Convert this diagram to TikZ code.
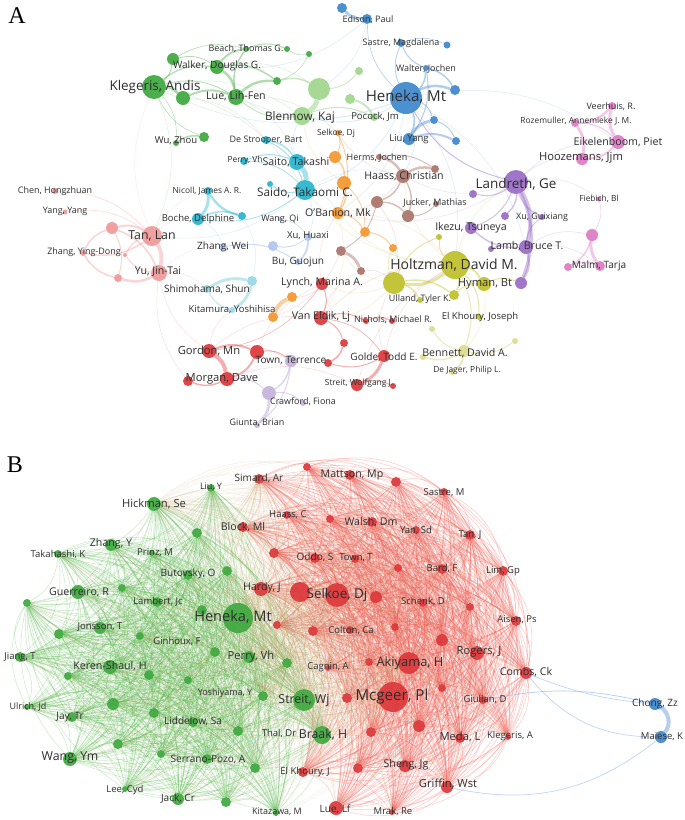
\documentclass[tikz,border=0pt]{standalone}
\usepackage{fontspec}
\setmainfont{Open Sans}
\newfontfamily\pserif{Liberation Serif}
\usetikzlibrary{calc}
\pgfdeclarelayer{bg}
\pgfsetlayers{bg,main}
\definecolor{cG}{RGB}{62,168,62}
\definecolor{cLG}{RGB}{160,214,140}
\definecolor{cB}{RGB}{62,135,205}
\definecolor{cC}{RGB}{40,180,205}
\definecolor{cLC}{RGB}{150,215,230}
\definecolor{cO}{RGB}{245,150,45}
\definecolor{cLB}{RGB}{175,198,235}
\definecolor{cBr}{RGB}{170,115,105}
\definecolor{cP}{RGB}{152,108,196}
\definecolor{cPk}{RGB}{222,122,196}
\definecolor{cS}{RGB}{240,152,152}
\definecolor{cR}{RGB}{220,55,58}
\definecolor{cLa}{RGB}{196,178,220}
\definecolor{cY}{RGB}{190,192,42}
\definecolor{cPY}{RGB}{220,220,142}
\definecolor{eGB}{RGB}{95,188,85}
\definecolor{eRB}{RGB}{240,95,85}
\definecolor{eXB}{RGB}{200,160,95}
\definecolor{eBl}{RGB}{150,185,235}
\newcommand\vN[5]{\node[vnode,fill=#5,minimum size={2*#4pt}] (#1) at (#2,#3) {};}
\newcommand\vL[5]{\pgfmathsetmacro\vfs{#4*1.12}\node[vlab,font=\fontsize{\vfs}{\vfs}\selectfont] (#1) at (#2,#3) {#5};}
\newcommand\EL[3]{\foreach \a/\b/\w in {#3} {\draw[line width=\w*1pt,draw=#1,opacity=#2] (\a) to[bend left=22] (\b);}}
\tikzset{
  vnode/.style={circle,inner sep=0pt,draw=none,fill opacity=0.92},
  vlab/.style={inner sep=0pt,text=black!82},
  panel/.style={inner sep=0pt,font=\pserif\fontsize{24}{24}\selectfont},
  eg/.style={draw=eGB,line width=0.55pt,opacity=0.3},
  er/.style={draw=eRB,line width=0.55pt,opacity=0.3},
  ex/.style={draw=eXB,line width=0.45pt,opacity=0.16},
}
\begin{document}
\begin{tikzpicture}[x=1pt,y=-1pt]
\useasboundingbox (0,0) rectangle (685,820);
\node[panel] (pA) at (17,16) {A};
\node[panel] (pB) at (15,465) {B};
% ================= Panel A nodes =================
% green
\vN{gBeach}{246}{49}{3}{cG}
\vN{gBeach2}{287}{49}{3}{cG}
\vN{g309}{309}{54}{3}{cG}
\vN{g173}{173}{59}{6}{cG}
\vN{gWalker}{217}{67}{7}{cG}
\vN{gKlegeris}{154}{87}{12}{cG}
\vN{g183}{183}{98}{7}{cG}
\vN{gLue}{236}{97}{8}{cG}
\vN{g277}{277}{81}{4}{cG}
\vN{gWu}{176}{143}{3}{cG}
\vN{gWu2}{204}{137}{5}{cG}
% light green
\vN{lg319}{319}{89}{11}{cLG}
\vN{lgBlennow}{302}{116}{9}{cLG}
\vN{lg350}{350}{99}{5}{cLG}
\vN{lg359}{359}{71}{4}{cLG}
\vN{lgPocock}{374}{117}{4}{cLG}
% blue
\vN{b342}{342}{8}{5}{cB}
\vN{bEdison}{367}{19}{5}{cB}
\vN{bSastre}{401}{43}{4}{cB}
\vN{b447}{447}{45}{3.5}{cB}
\vN{bWalter}{426}{68}{3}{cB}
\vN{b455}{455}{90}{5}{cB}
\vN{bHeneka}{406}{98}{16}{cB}
\vN{b434}{434}{120}{4}{cB}
\vN{bLiu}{409}{139}{6}{cB}
\vN{b456}{456}{141}{4}{cB}
% cyan
\vN{cDeS}{266}{140}{4}{cC}
\vN{cPerry}{244}{161}{4}{cC}
\vN{cSaito}{297}{162}{8}{cC}
\vN{cSaido}{305}{190}{10}{cC}
\vN{c270}{270}{184}{3}{cC}
\vN{cNicoll}{208}{191}{4}{cC}
\vN{cBoche}{198}{219}{6}{cC}
\vN{c242}{242}{216}{4}{cC}
% light cyan
\vN{lcShim}{207}{289}{4}{cLC}
\vN{lc252}{252}{281}{5}{cLC}
\vN{lcKit}{232}{310}{3}{cLC}
% orange
\vN{oSelkoe}{338}{133}{3}{cO}
\vN{o335}{335}{157}{6}{cO}
\vN{o344}{344}{183}{7}{cO}
\vN{oOBanion}{338}{213}{6}{cO}
\vN{o365}{365}{232}{5}{cO}
\vN{o393}{393}{248}{4}{cO}
\vN{o273}{273}{317}{5}{cO}
\vN{o292}{292}{297}{5}{cO}
% light blue
\vN{lbWang}{280}{219}{2}{cLB}
\vN{lbXu}{308}{237}{4}{cLB}
\vN{lb273}{273}{246}{5}{cLB}
\vN{lbZhang}{223}{247}{4}{cLB}
\vN{lbBu}{298}{262}{3}{cLB}
% brown
\vN{brHerms}{379}{157}{3}{cBr}
\vN{br435}{435}{169}{4}{cBr}
\vN{brHaass}{403}{176}{7}{cBr}
\vN{br377}{377}{202}{6}{cBr}
\vN{brJucker}{436}{204}{3}{cBr}
\vN{br408}{408}{216}{6}{cBr}
\vN{br341}{341}{251}{5}{cBr}
\vN{br361}{361}{271}{4}{cBr}
% purple
\vN{pLandreth}{516}{182}{12}{cP}
\vN{p473}{473}{194}{4}{cP}
\vN{pXu}{505}{216}{4}{cP}
\vN{pXu2}{542}{217}{3}{cP}
\vN{pIkezu}{471}{228}{6}{cP}
\vN{pLamb}{526}{247}{7}{cP}
\vN{p491}{491}{249}{3}{cP}
\vN{p521}{521}{283}{6}{cP}
% pink
\vN{pkVeer}{612}{106}{4}{cPk}
\vN{pkRoz}{575}{123}{4}{cPk}
\vN{pkEik}{618}{142}{7}{cPk}
\vN{pkHooz}{582}{159}{6}{cPk}
\vN{pkFiebich}{599}{199}{2.5}{cPk}
\vN{pk592}{592}{235}{6}{cPk}
\vN{pk568}{568}{267}{4}{cPk}
\vN{pkMalm}{600}{266}{5}{cPk}
% salmon
\vN{sChen}{55}{191}{3}{cS}
\vN{sYang}{65}{212}{2.5}{cS}
\vN{sTan}{152}{236}{10}{cS}
\vN{s112}{112}{228}{6}{cS}
\vN{sZhang}{83}{253}{3}{cS}
\vN{s125}{125}{255}{2}{cS}
\vN{sYu}{159}{273}{8}{cS}
\vN{s118}{118}{278}{4}{cS}
% red
\vN{rLynch}{322}{284}{6}{cR}
\vN{rVanEldik}{321}{318}{7}{cR}
\vN{rNichols}{366}{321}{3}{cR}
\vN{rNichols2}{392}{321}{3}{cR}
\vN{r344}{344}{343}{4}{cR}
\vN{rGordon}{209}{351}{7}{cR}
\vN{r257}{257}{352}{7}{cR}
\vN{r328}{328}{363}{4}{cR}
\vN{rGolde}{384}{356}{6}{cR}
\vN{rMorgan}{227}{379}{7}{cR}
\vN{r188}{188}{381}{5}{cR}
\vN{rStreit}{357}{385}{6}{cR}
\vN{r393}{393}{386}{3}{cR}
% lavender
\vN{laTown}{291}{361}{6}{cLa}
\vN{laCrawford}{269}{393}{7}{cLa}
\vN{la303}{303}{403}{3}{cLa}
\vN{laGiunta}{257}{425}{3}{cLa}
% yellow
\vN{yHoltzman}{455}{265}{14}{cY}
\vN{y394}{394}{283}{11}{cY}
\vN{yHyman}{484}{284}{7}{cY}
\vN{yUlland}{454}{295}{5}{cY}
\vN{y420}{420}{300}{3}{cY}
\vN{yElKhoury}{479}{317}{3}{cY}
\vN{yIkezu}{439}{237}{3}{cY}
% pale yellow
\vN{py432}{432}{329}{3}{cPY}
\vN{py515}{515}{341}{3}{cPY}
\vN{pyBennett}{464}{351}{6}{cPY}
\vN{py423}{423}{357}{3}{cPY}
\vN{pyDeJager}{452}{372}{3}{cPY}
% ================= Panel B nodes =================
\vN{LiuY}{211}{488}{4}{cG}
\vN{Hickman}{154}{504}{7}{cG}
\vN{g197}{197}{533}{5}{cG}
\vN{ZhangY}{111}{545}{6}{cG}
\vN{Takahashi}{58}{554}{4}{cG}
\vN{Prinz}{152}{553}{3}{cG}
\vN{Butovsky}{188}{575}{5}{cG}
\vN{g227}{227}{571}{5}{cG}
\vN{Guerreiro}{78}{592}{7}{cG}
\vN{g122}{122}{588}{4}{cG}
\vN{Lambert}{157}{602}{5}{cG}
\vN{g202}{202}{610}{5}{cG}
\vN{HenekaB}{238}{618}{15}{cG}
\vN{Jonsson}{100}{628}{6}{cG}
\vN{g59}{59}{634}{5}{cG}
\vN{g140}{140}{636}{4}{cG}
\vN{g215}{215}{652}{5}{cG}
\vN{PerryB}{249}{657}{6}{cG}
\vN{g287}{287}{663}{5}{cG}
\vN{Jiang}{20}{657}{5}{cG}
\vN{KerenShaul}{110}{667}{7}{cG}
\vN{g68}{68}{676}{4}{cG}
\vN{g149}{149}{675}{5}{cG}
\vN{g188}{188}{680}{4}{cG}
\vN{StreitB}{304}{700}{11}{cG}
\vN{Yoshiyama}{263}{696}{5}{cG}
\vN{Ulrich}{27}{707}{3}{cG}
\vN{Jay}{72}{717}{5}{cG}
\vN{g113}{113}{704}{6}{cG}
\vN{g154}{154}{713}{5}{cG}
\vN{Liddelow}{193}{722}{5}{cG}
\vN{g238}{238}{731}{5}{cG}
\vN{Braak}{322}{735}{9}{cG}
\vN{WangYm}{70}{759}{7}{cG}
\vN{g118}{118}{744}{5}{cG}
\vN{g161}{161}{754}{4}{cG}
\vN{SerranoPozo}{207}{759}{5}{cG}
\vN{g255}{255}{768}{5}{cG}
\vN{LeeCyd}{125}{789}{3}{cG}
\vN{JackCr}{178}{799}{6}{cG}
\vN{g226}{226}{802}{5}{cG}
\vN{Kitazawa}{276}{813}{3}{cG}
\vN{g27}{27}{603}{4}{cG}
% red
\vN{r307}{307}{467}{4}{cR}
\vN{Simard}{259}{479}{5}{cR}
\vN{Mattson}{350}{475}{5}{cR}
\vN{r396}{396}{482}{5}{cR}
\vN{SastreM}{444}{492}{4}{cR}
\vN{HaassC}{287}{515}{4}{cR}
\vN{r330}{330}{519}{4}{cR}
\vN{Block}{243}{527}{5}{cR}
\vN{Walsh}{372}{522}{5}{cR}
\vN{YanSd}{416}{530}{4}{cR}
\vN{TanJ}{470}{535}{5}{cR}
\vN{r274}{274}{553}{5}{cR}
\vN{Oddo}{315}{558}{5}{cR}
\vN{TownT}{355}{559}{4}{cR}
\vN{r398}{398}{568}{4}{cR}
\vN{Bard}{442}{569}{5}{cR}
\vN{LimGp}{503}{571}{5}{cR}
\vN{Hardy}{261}{589}{7}{cR}
\vN{r300}{300}{592}{10}{cR}
\vN{SelkoeB}{337}{595}{12}{cR}
\vN{r376}{376}{597}{6}{cR}
\vN{Schenk}{423}{603}{4}{cR}
\vN{r470}{470}{607}{4}{cR}
\vN{Aisen}{516}{621}{5}{cR}
\vN{r277}{277}{625}{4}{cR}
\vN{r313}{313}{631}{5}{cR}
\vN{Colton}{350}{630}{4}{cR}
\vN{r395}{395}{627}{4}{cR}
\vN{r442}{442}{640}{6}{cR}
\vN{Rogers}{477}{653}{7}{cR}
\vN{r369}{369}{662}{4}{cR}
\vN{Cagnin}{328}{668}{3}{cR}
\vN{Akiyama}{409}{663}{11}{cR}
\vN{Combs}{526}{673}{6}{cR}
\vN{r347}{347}{698}{5}{cR}
\vN{Mcgeer}{393}{697}{15}{cR}
\vN{r442b}{442}{688}{4}{cR}
\vN{Giulian}{483}{700}{4}{cR}
\vN{r371}{371}{732}{5}{cR}
\vN{r419}{419}{726}{6}{cR}
\vN{Meda}{460}{738}{5}{cR}
\vN{KlegerisA}{508}{737}{3}{cR}
\vN{ElKhouryJ}{303}{772}{5}{cR}
\vN{r358}{358}{768}{5}{cR}
\vN{Sheng}{405}{766}{6}{cR}
\vN{Griffin}{447}{787}{6}{cR}
\vN{LueLf}{336}{808}{7}{cR}
\vN{Mrak}{392}{812}{3}{cR}
% blue
\vN{Chong}{655}{704}{6}{cB}
\vN{Maiese}{661}{737}{6}{cB}
% ================= edges =================
\begin{pgfonlayer}{bg}
\fill[white] (0,0) rectangle (685,820);
% ---- panel A faint cross edges
\EL{cB}{0.18}{bHeneka/yHoltzman/0.6,bHeneka/cSaido/0.6,bHeneka/gKlegeris/0.5,bHeneka/brHaass/0.6,bHeneka/lgBlennow/0.8,bHeneka/gLue/0.5,bHeneka/oOBanion/0.5,bHeneka/pLamb/0.5,bEdison/gWalker/0.5,bEdison/lg319/0.5,bHeneka/pkEik/0.5}
\EL{cG}{0.18}{gKlegeris/cSaido/0.5,gKlegeris/lgBlennow/0.5,gLue/cSaito/0.5,gWalker/lg319/0.5,gKlegeris/sTan/0.5,g183/cDeS/0.5,gLue/oSelkoe/0.5}
\EL{cR}{0.16}{rVanEldik/yHoltzman/0.6,rLynch/oOBanion/0.5,rGolde/yHoltzman/0.6,rGordon/rVanEldik/0.6,rMorgan/rStreit/0.6,r257/rLynch/0.5,rGolde/y394/0.6,rStreit/yHoltzman/0.5,rGordon/laTown/0.6,rVanEldik/br361/0.5,rLynch/o292/0.5,rGordon/sYu/0.5,r188/sYu/0.5,rGordon/lcKit/0.5}
\EL{cY}{0.2}{yHoltzman/cSaido/0.6,yHoltzman/brHaass/0.6,yHoltzman/pLandreth/0.6,y394/rVanEldik/0.6,yHyman/pyBennett/0.6,y394/br341/0.6,y394/rLynch/0.6,yHoltzman/oOBanion/0.5}
\EL{cP}{0.2}{pLandreth/pkHooz/0.6,pLandreth/pkEik/0.6,pLamb/pk592/0.6,pLamb/pkMalm/0.6,pLandreth/brHaass/0.5,pLandreth/oOBanion/0.5,pLandreth/pkFiebich/0.5}
\EL{cC}{0.18}{cSaido/brHaass/0.5,cSaido/oOBanion/0.6,cSaido/sTan/0.5,cSaido/lbXu/0.6,cSaito/lgBlennow/0.6,cBoche/lbZhang/0.5,c242/lc252/0.5}
\EL{cBr}{0.2}{brHaass/oOBanion/0.6,br377/y394/0.6,brHaass/oSelkoe/0.6,br341/o273/0.5,br361/y394/0.6}
\EL{cO}{0.2}{oOBanion/rVanEldik/0.5,oOBanion/yHoltzman/0.5,o344/lgBlennow/0.6,o393/y394/0.6}
\EL{cS}{0.2}{sTan/cNicoll/0.5,sYu/lcShim/0.6,sTan/gKlegeris/0.5,sTan/cBoche/0.6,sYu/lbZhang/0.5}
% ---- panel A cluster edges
\EL{cG}{0.4}{gKlegeris/g183/3,gKlegeris/gWalker/1.2,g183/gLue/2,gWalker/gLue/2.5,gWalker/gBeach/2,gLue/gBeach/1.5,gLue/g277/2.5,gWalker/g277/1.5,gBeach/gBeach2/1,g173/gKlegeris/1,g173/gWalker/0.8,gKlegeris/gLue/0.8,gWu/gWu2/1.5,gKlegeris/gWu/0.5,gWu2/gKlegeris/0.5,g309/gBeach2/0.5,g309/g277/0.5,g173/gBeach/0.6}
\EL{cLG}{0.55}{lg319/lgBlennow/5,g277/lg319/1.5,lgBlennow/lgPocock/1,lg350/lgPocock/2,lg359/lg319/0.8,lgBlennow/gLue/1}
\EL{cB}{0.4}{bHeneka/b455/2.5,bWalter/bHeneka/1.5,bWalter/bSastre/1,bWalter/b455/1.5,bWalter/bLiu/1,bHeneka/bLiu/1.5,bLiu/b434/3,bLiu/b456/2,b434/b456/1,bEdison/b342/3,bHeneka/bEdison/0.6,bSastre/b447/0.6,bHeneka/bSastre/0.8,bHeneka/b434/1}
\EL{cP}{0.45}{pLandreth/bHeneka/1}
\EL{cC}{0.4}{cSaito/cSaido/5,cDeS/cSaito/1.5,cPerry/cSaito/1,cSaido/c270/1,cNicoll/cBoche/3,c242/cNicoll/2.5,cBoche/c242/1.5,cSaido/cBoche/0.8,cDeS/cSaido/1,cPerry/cSaido/0.8}
\EL{cLC}{0.6}{lcShim/lc252/3,lcKit/lcShim/1,lc252/lcKit/3}
\EL{cO}{0.45}{o273/o292/4,oSelkoe/o335/1,o335/o344/1.5,o344/oOBanion/1.5,oOBanion/o365/1,o365/o393/1,oSelkoe/oOBanion/1,o344/o365/0.8}
\EL{cLB}{0.6}{lbXu/lbBu/2,lbXu/lb273/1,lbZhang/lbBu/1,lbWang/lbXu/0.6}
\EL{cBr}{0.45}{brHerms/brHaass/2.5,brHaass/br435/2.5,brHaass/br377/1.5,br377/br408/1.5,brHaass/br408/1.5,br341/br361/3,br377/br341/1,brHerms/br435/1,brJucker/br408/1}
\EL{cP}{0.4}{pLandreth/pLamb/4,pLandreth/p521/3,pLamb/p521/2.5,pLandreth/pXu/1.5,pLandreth/pIkezu/1,pLamb/pIkezu/1.5,pLandreth/p473/1,pLamb/pXu2/1,p491/pLamb/1,pXu2/pLandreth/1.5}
\EL{cPk}{0.4}{pkVeer/pkRoz/2.5,pkRoz/pkHooz/3,pkEik/pkVeer/3,pkEik/pkHooz/2,pkRoz/pkEik/1,pk592/pk568/1.5,pkMalm/pk592/3,pk568/pkMalm/1.5,pkFiebich/pk592/0.5}
\EL{cS}{0.4}{sTan/sYu/4,s112/sTan/2,sZhang/s112/1.5,s118/sZhang/1.5,sYu/s118/2.5,sTan/sZhang/1.5,s112/sYu/1.5,s112/s118/1,s125/sTan/1,sYu/s125/1,sChen/sTan/0.5,sYang/sTan/0.5}
\EL{cR}{0.4}{rGordon/rMorgan/4,rGordon/r257/2,r257/rMorgan/2,rMorgan/r188/1.5,rLynch/rVanEldik/1,rVanEldik/r344/1,r344/r328/1.5,rVanEldik/rNichols/1,rNichols/rNichols2/1,rGolde/rStreit/3,rGolde/r328/1,rStreit/r393/1,rVanEldik/rGolde/0.6,rLynch/rGordon/0.5,r257/laTown/1}
\EL{cLa}{0.55}{laTown/laCrawford/1.5,laCrawford/laGiunta/3,laCrawford/la303/1,laTown/laGiunta/1,rMorgan/laCrawford/1}
\EL{cY}{0.4}{yHoltzman/y394/3,yHoltzman/yHyman/2,yHoltzman/yUlland/1.5,y394/y420/1.5,yHoltzman/yIkezu/1,yHoltzman/yElKhoury/1,y394/yUlland/1.5,yHyman/p521/1,y394/yIkezu/1,yUlland/yHyman/1,y394/o393/0.6}
\EL{cPY}{0.6}{pyBennett/py423/1.5,pyBennett/pyDeJager/2,pyBennett/py432/1,py515/pyBennett/1,yHoltzman/pyBennett/1}
% ---- panel B
\def\Glist{LiuY,Hickman,g197,ZhangY,Takahashi,Prinz,Butovsky,g227,Guerreiro,g122,Lambert,g202,HenekaB,Jonsson,g59,g140,g215,PerryB,g287,Jiang,KerenShaul,g68,g149,g188,StreitB,Yoshiyama,Ulrich,Jay,g113,g154,Liddelow,g238,Braak,WangYm,g118,g161,SerranoPozo,g255,LeeCyd,JackCr,g226,Kitazawa,g27}
\def\Rlist{r307,Simard,Mattson,r396,SastreM,HaassC,r330,Block,Walsh,YanSd,TanJ,r274,Oddo,TownT,r398,Bard,LimGp,Hardy,r300,SelkoeB,r376,Schenk,r470,Aisen,r277,r313,Colton,r395,r442,Rogers,r369,Cagnin,Akiyama,Combs,r347,Mcgeer,r442b,Giulian,r371,r419,Meda,KlegerisA,ElKhouryJ,r358,Sheng,Griffin,LueLf,Mrak}
\foreach \a [count=\i] in \Glist {
  \foreach \b [count=\j] in \Glist {
    \ifnum\j>\i \draw[eg] (\a) to[bend left=28] (\b); \fi
  }
}
\foreach \a [count=\i] in \Rlist {
  \foreach \b [count=\j] in \Rlist {
    \ifnum\j>\i \draw[er] (\a) to[bend left=28] (\b); \fi
  }
}
\foreach \a in {HenekaB,StreitB,Braak,PerryB,Hickman,g287,Yoshiyama} {
  \foreach \b in \Rlist { \draw[ex] (\a) to[bend left=25] (\b); }
}
\foreach \a in {Mcgeer,Akiyama,SelkoeB,r300,Hardy,Simard} {
  \foreach \b in \Glist { \draw[ex] (\a) to[bend left=25] (\b); }
}
\draw[draw=eBl,line width=4pt,opacity=0.7] (Chong) to[bend left=50] (Maiese);
\draw[draw=eBl,line width=0.7pt,opacity=0.7] (Giulian) to[bend left=12] (Chong);
\draw[draw=eBl,line width=0.7pt,opacity=0.6] (Combs) to[bend right=8] (Chong);
\draw[draw=eBl,line width=0.7pt,opacity=0.6] (Combs) to[bend right=25] (Maiese);
\draw[draw=eBl,line width=0.7pt,opacity=0.6] (Griffin) to[bend right=25] (Maiese);
\end{pgfonlayer}
% ================= labels =================
% panel A
\vL{tBeach}{246}{49}{8}{Beach, Thomas G.}
\vL{tWalker}{217}{66}{9}{Walker, Douglas G.}
\vL{tKlegeris}{155}{87}{12}{Klegeris, Andis}
\vL{tLue}{236}{96}{9.5}{Lue, Lih-Fen}
\vL{tWu}{176}{140}{8.5}{Wu, Zhou}
\vL{tBlennow}{300}{117}{10.5}{Blennow, Kaj}
\vL{tPocock}{375}{117}{8.5}{Pocock, Jm}
\vL{tEdison}{368}{20}{8}{Edison, Paul}
\vL{tSastre}{401}{43}{8}{Sastre, Magdalena}
\vL{tWalter}{426}{69}{8}{Walter, Jochen}
\vL{tHeneka}{406}{97}{13.5}{Heneka, Mt}
\vL{tLiu}{409}{139}{8.5}{Liu, Yang}
\vL{tDeS}{266}{140}{8}{De Strooper, Bart}
\vL{tPerry}{245}{160}{7.5}{Perry, Vh}
\vL{tSaito}{296}{162}{9.5}{Saito, Takashi}
\vL{tSaido}{305}{193}{10.5}{Saido, Takaomi C.}
\vL{tNicoll}{207}{191}{7.5}{Nicoll, James A. R.}
\vL{tBoche}{198}{219}{8.5}{Boche, Delphine}
\vL{tShim}{207}{289}{9}{Shimohama, Shun}
\vL{tKit}{232}{309}{8.5}{Kitamura, Yoshihisa}
\vL{tSelkoe}{336}{133}{7.5}{Selkoe, Dj}
\vL{tOBanion}{338}{213}{9.5}{O'Banion, Mk}
\vL{tWangQi}{280}{219}{8}{Wang, Qi}
\vL{tXuH}{308}{236}{8.5}{Xu, Huaxi}
\vL{tZhangW}{223}{247}{9}{Zhang, Wei}
\vL{tBu}{298}{262}{9}{Bu, Guojun}
\vL{tHerms}{377}{158}{8}{Herms, Jochen}
\vL{tHaass}{404}{176}{9.5}{Haass, Christian}
\vL{tJucker}{435}{203}{8}{Jucker, Mathias}
\vL{tLandreth}{516}{184}{12}{Landreth, Ge}
\vL{tXuG}{542}{217}{8}{Xu, Guixiang}
\vL{tIkezu}{471}{228}{9.5}{Ikezu, Tsuneya}
\vL{tLamb}{527}{246}{9.5}{Lamb, Bruce T.}
\vL{tVeer}{611}{107}{8}{Veerhuis, R.}
\vL{tRoz}{576}{121}{7.5}{Rozemuller, Annemieke J. M.}
\vL{tEik}{618}{142}{9.5}{Eikelenboom, Piet}
\vL{tHooz}{581}{158}{10}{Hoozemans, Jjm}
\vL{tFiebich}{599}{199}{7.5}{Fiebich, Bl}
\vL{tMalm}{599}{266}{9}{Malm, Tarja}
\vL{tChen}{55}{191}{8}{Chen, Hongzhuan}
\vL{tYang}{65}{211}{8}{Yang, Yang}
\vL{tTan}{152}{236}{11}{Tan, Lan}
\vL{tZhangYD}{84}{252}{8}{Zhang, Ying-Dong}
\vL{tYu}{158}{272}{9.5}{Yu, Jin-Tai}
\vL{tLynch}{322}{283}{9.5}{Lynch, Marina A.}
\vL{tVanEldik}{321}{317}{9.5}{Van Eldik, Lj}
\vL{tNichols}{393}{320}{8}{Nichols, Michael R.}
\vL{tGordon}{209}{351}{10}{Gordon, Mn}
\vL{tTown}{291}{361}{9}{Town, Terrence}
\vL{tGolde}{384}{357}{9}{Golde, Todd E.}
\vL{tMorgan}{222}{379}{10}{Morgan, Dave}
\vL{tStreit}{359}{383}{7.5}{Streit, Wolfgang J.}
\vL{tCrawford}{303}{402}{8}{Crawford, Fiona}
\vL{tGiunta}{257}{423}{8}{Giunta, Brian}
\vL{tHoltzman}{454}{265}{12.5}{Holtzman, David M.}
\vL{tHyman}{485}{284}{10}{Hyman, Bt}
\vL{tUlland}{420}{299}{8}{Ulland, Tyler K.}
\vL{tElKhoury}{480}{317}{8.5}{El Khoury, Joseph}
\vL{tBennett}{465}{353}{9.5}{Bennett, David A.}
\vL{tDeJager}{467}{370}{7.5}{De Jager, Philip L.}
% panel B
\vL{tSimard}{259}{478}{9}{Simard, Ar}
\vL{tLiuY}{211}{487}{8}{Liu, Y}
\vL{tHickman}{154}{504}{10}{Hickman, Se}
\vL{tHaassC}{288}{515}{8.5}{Haass, C}
\vL{tBlock}{243}{527}{9.5}{Block, Ml}
\vL{tZhangY}{111}{544}{9.5}{Zhang, Y}
\vL{tTakahashi}{58}{554}{8.5}{Takahashi, K}
\vL{tPrinz}{155}{553}{8.5}{Prinz, M}
\vL{tOddo}{315}{557}{9}{Oddo, S}
\vL{tButovsky}{188}{574}{9}{Butovsky, O}
\vL{tGuerreiro}{79}{592}{9.5}{Guerreiro, R}
\vL{tHardy}{262}{588}{9.5}{Hardy, J}
\vL{tSelkoeB}{337}{595}{12}{Selkoe, Dj}
\vL{tMattson}{352}{475}{9.5}{Mattson, Mp}
\vL{tSastreM}{444}{493}{8.5}{Sastre, M}
\vL{tWalsh}{371}{522}{9.5}{Walsh, Dm}
\vL{tYanSd}{416}{530}{8.5}{Yan, Sd}
\vL{tTanJ}{470}{535}{8.5}{Tan, J}
\vL{tTownT}{356}{558}{8.5}{Town, T}
\vL{tBard}{442}{568}{8.5}{Bard, F}
\vL{tLimGp}{503}{571}{8.5}{Lim, Gp}
\vL{tSchenk}{423}{601}{8.5}{Schenk, D}
\vL{tLambert}{158}{602}{8.5}{Lambert, Jc}
\vL{tHenekaB}{233}{617}{13}{Heneka, Mt}
\vL{tColton}{351}{630}{8.5}{Colton, Ca}
\vL{tJonsson}{100}{627}{8.5}{Jonsson, T}
\vL{tGinhoux}{177}{641}{8.5}{Ginhoux, F}
\vL{tPerryB}{251}{657}{10}{Perry, Vh}
\vL{tJiang}{20}{657}{8.5}{Jiang, T}
\vL{tKerenShaul}{110}{666}{9.5}{Keren-Shaul, H}
\vL{tCagnin}{328}{667}{8.5}{Cagnin, A}
\vL{tAkiyama}{410}{663}{11.5}{Akiyama, H}
\vL{tRogers}{479}{652}{10}{Rogers, J}
\vL{tAisen}{517}{620}{8.5}{Aisen, Ps}
\vL{tCombs}{526}{672}{9.5}{Combs, Ck}
\vL{tMcgeer}{392}{697}{13.5}{Mcgeer, Pl}
\vL{tGiulian}{485}{699}{8.5}{Giulian, D}
\vL{tStreitB}{304}{700}{11}{Streit, Wj}
\vL{tYoshiyama}{225}{693}{8}{Yoshiyama, Y}
\vL{tUlrich}{28}{707}{8}{Ulrich, Jd}
\vL{tJay}{70}{717}{9}{Jay, Tr}
\vL{tLiddelow}{193}{721}{9}{Liddelow, Sa}
\vL{tThal}{279}{733}{8.5}{Thal, Dr}
\vL{tBraak}{323}{735}{11}{Braak, H}
\vL{tMeda}{460}{737}{10}{Meda, L}
\vL{tKlegerisA}{510}{736}{8.5}{Klegeris, A}
\vL{tChong}{655}{704}{9}{Chong, Zz}
\vL{tMaiese}{662}{737}{8.5}{Maiese, K}
\vL{tWangYm}{70}{758}{11}{Wang, Ym}
\vL{tSerranoPozo}{208}{759}{9}{Serrano-Pozo, A}
\vL{tElKhouryJ}{305}{772}{8.5}{El Khoury, J}
\vL{tSheng}{406}{765}{9.5}{Sheng, Jg}
\vL{tGriffin}{448}{784}{10}{Griffin, Wst}
\vL{tLeeCyd}{125}{790}{8.5}{Lee, Cyd}
\vL{tJackCr}{178}{799}{9}{Jack, Cr}
\vL{tKitazawa}{277}{812}{8}{Kitazawa, M}
\vL{tLueLf}{335}{809}{9}{Lue, Lf}
\vL{tMrak}{393}{811}{8.5}{Mrak, Re}
\end{tikzpicture}
\end{document}
